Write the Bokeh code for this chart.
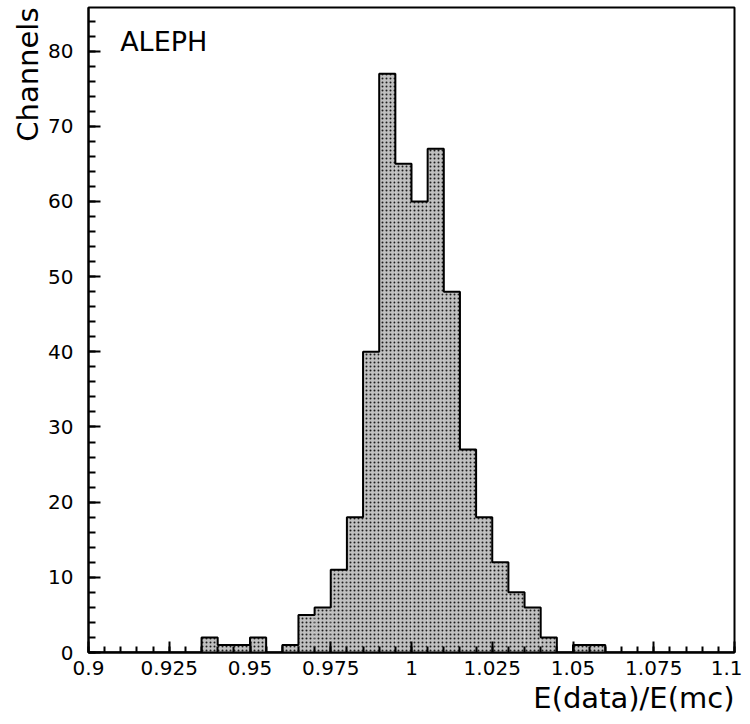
import numpy as np
from bokeh.plotting import figure
from bokeh.models import FixedTicker, Label, Range1d, Title
from bokeh.embed import file_html
from bokeh.resources import INLINE

# ---- data ----
bin_start = 0.9
bin_width = 0.005
counts = [0, 0, 0, 0, 0, 0, 0, 2, 1, 1,
          2, 0, 1, 5, 6, 11, 18, 40, 77, 65,
          60, 67, 48, 27, 18, 12, 8, 6, 2, 0,
          1, 1, 0, 0, 0, 0, 0, 0, 0, 0]
x_ticks = [0.9, 0.925, 0.95, 0.975, 1.0, 1.025, 1.05, 1.075, 1.1]
x_tick_labels = ["0.9", "0.925", "0.95", "0.975", "1", "1.025", "1.05", "1.075", "1.1"]
y_ticks = [0, 10, 20, 30, 40, 50, 60, 70, 80]
y_tick_labels = ["0", "10", "20", "30", "40", "50", "60", "70", "80"]
x_title = "E(data)/E(mc)"
y_title = "Channels"
tag = "ALEPH"

n = len(counts)
edges = np.round(bin_start + bin_width * np.arange(n + 1), 4)
left = edges[:-1]
right = edges[1:]

FONT = "DejaVu Sans"

p = figure(width=742, height=716, output_backend="svg", toolbar_location=None,
           x_range=Range1d(0.9, 1.1), y_range=Range1d(0, 85.8),
           min_border_left=88, min_border_right=8, min_border_top=7,
           min_border_bottom=62)
p.background_fill_color = "white"
p.border_fill_color = "white"
p.outline_line_color = "black"
p.outline_line_width = 2
p.grid.visible = False

# bars
p.quad(left=left, right=right, top=counts, bottom=0,
       fill_color="#c0c0c0", line_color=None,
       hatch_pattern="dot", hatch_color="black", hatch_scale=4,
       hatch_weight=1.3, hatch_alpha=0.85)
# outline of histogram
p.step(x=edges, y=list(counts) + [0], mode="after", line_color="black", line_width=2)

# x axis
xa = p.xaxis[0]
xa.ticker = FixedTicker(ticks=x_ticks,
                        minor_ticks=list(np.round(0.9 + 0.005 * np.arange(41), 4)))
xa.major_label_overrides = {t: l for t, l in zip(x_ticks, x_tick_labels)}
xa.major_tick_in = 11
xa.major_tick_out = 0
xa.minor_tick_in = 6
xa.minor_tick_out = 0
xa.major_tick_line_width = 2
xa.minor_tick_line_width = 2
xa.axis_line_width = 2
xa.major_label_standoff = 8
xa.major_label_text_font = FONT
xa.major_label_text_font_size = "20px"
xa.major_label_text_color = "black"

# y axis
ya = p.yaxis[0]
ya.ticker = FixedTicker(ticks=y_ticks, minor_ticks=list(range(0, 86, 2)))
ya.major_label_overrides = {t: l for t, l in zip(y_ticks, y_tick_labels)}
ya.major_tick_in = 12
ya.major_tick_out = 0
ya.minor_tick_in = 7
ya.minor_tick_out = 0
ya.major_tick_line_width = 2
ya.minor_tick_line_width = 2
ya.axis_line_width = 2
ya.major_label_standoff = 15
ya.major_label_text_font = FONT
ya.major_label_text_font_size = "20px"
ya.major_label_text_color = "black"

# axis titles as side titles (right/top aligned like the reference)
p.add_layout(Title(text=x_title, align="right", text_font=FONT,
                   text_font_size="29px", text_font_style="normal",
                   text_color="black", standoff=3), "below")
p.add_layout(Title(text=y_title, align="right", text_font=FONT,
                   text_font_size="29px", text_font_style="normal",
                   text_color="black", standoff=2), "left")

p.add_layout(Label(x=0.9098, y=81.3, text=tag, text_align="left",
                   text_baseline="middle", text_font=FONT,
                   text_font_size="27px", text_color="black"))

open("out.html", "w").write(file_html(p, INLINE))
